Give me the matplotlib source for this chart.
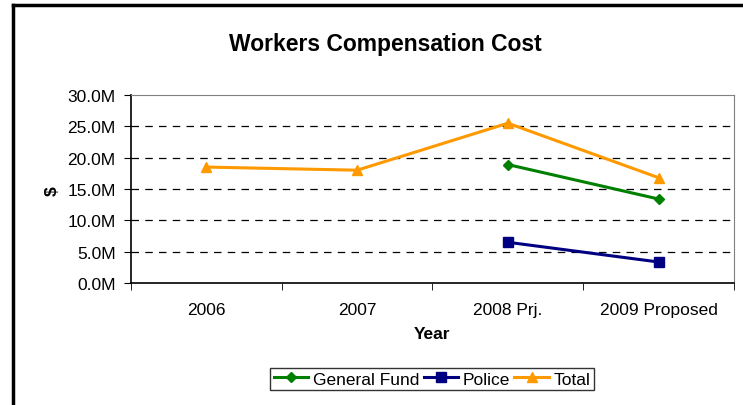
#!/usr/bin/env python3

import numpy as np
import matplotlib.pyplot as plt
from matplotlib.lines import Line2D

plt.rcParams['font.family'] = ['Liberation Sans', 'DejaVu Sans']

years = ['2006', '2007', '2008 Prj.', '2009 Proposed']
general_fund = [np.nan, np.nan, 18.9, 13.4]
police = [np.nan, np.nan, 6.5, 3.35]
total = [18.5, 18.0, 25.5, 16.8]
yticks = [0, 5, 10, 15, 20, 25, 30]


def main():
    fig = plt.figure(figsize=(7.43, 4.06), dpi=100)
    ax = fig.add_axes([131/743, 1-284/406, 603/743, 188/406])

    x = np.arange(len(years))
    ax.plot(x, general_fund, color='#008000', lw=2.2, marker='D', ms=5, label='General Fund')
    ax.plot(x, police, color='#000080', lw=2.2, marker='s', ms=6.5, label='Police')
    ax.plot(x, total, color='#FF9900', lw=2.2, marker='^', ms=7.5, label='Total')

    ax.set_xlim(-0.5, len(years) - 0.5)
    ax.set_ylim(0, 30)
    ax.set_yticks(yticks)
    ax.set_yticklabels(['%.1fM' % v for v in yticks], fontsize=12.5)
    ax.set_xticks(x)
    ax.set_xticklabels(years, fontsize=12.5)
    ax.set_xticks(np.arange(len(years) + 1) - 0.5, minor=True)
    ax.tick_params(axis='x', which='major', length=0, pad=14)
    ax.tick_params(axis='x', which='minor', length=5, direction='out')
    ax.tick_params(axis='y', length=5, direction='out', pad=6)

    for v in yticks[1:-1]:
        ax.axhline(v, color='black', lw=0.9, ls=(0, (6, 5)), zorder=0)

    ax.spines['top'].set_color('#808080')
    ax.spines['right'].set_color('#808080')
    ax.spines['left'].set_linewidth(1.2)
    ax.spines['bottom'].set_linewidth(1.2)

    ax.set_xlabel('Year', fontsize=12.5, fontweight='bold', labelpad=6)
    fig.text(52/743, 1-191/406, '$', fontsize=12.5, fontweight='bold',
             rotation=90, ha='center', va='center')
    fig.text(385/743, 1-45/406, 'Workers Compensation Cost', fontsize=16.5,
             fontweight='bold', ha='center', va='center')

    handles, labels = ax.get_legend_handles_labels()
    leg = fig.legend(handles, labels, loc='center', bbox_to_anchor=(432/743, 1-380/406),
                     ncol=3, fontsize=12.5, frameon=True, fancybox=False,
                     handlelength=2.0, handletextpad=0.25, columnspacing=0.25,
                     borderpad=0.2, borderaxespad=0)
    leg.get_frame().set_edgecolor('black')
    leg.get_frame().set_linewidth(1)

    # chart area border (left and top visible)
    fig.add_artist(Line2D([13/743, 13/743], [0, 1-6/406], color='black', lw=2.5))
    fig.add_artist(Line2D([13/743, 1], [1-6/406, 1-6/406], color='black', lw=2.5))

    fig.savefig('out.png', dpi=100)


if __name__ == "__main__":
    main()
